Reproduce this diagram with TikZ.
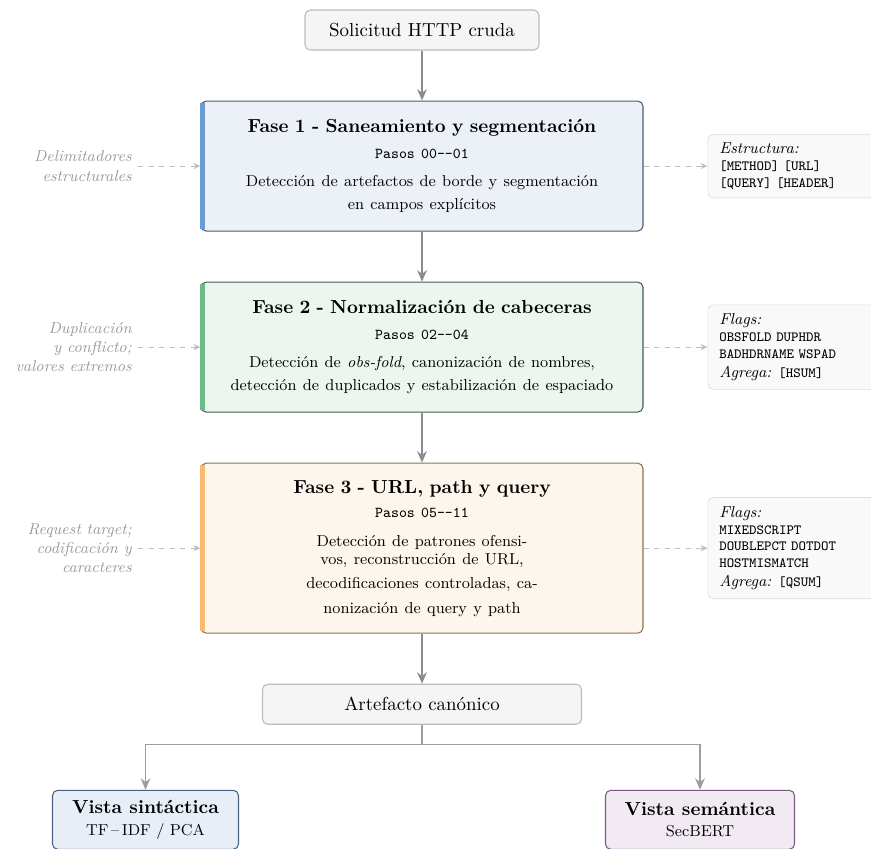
\documentclass[tikz,border=0pt]{standalone}
\usepackage{fontspec}
\usetikzlibrary{arrows.meta,positioning,calc}

\newcommand{\mainsize}{\fontsize{10.75}{13}\selectfont}
\newcommand{\stepsize}{\fontsize{8.6}{10}\selectfont}

\definecolor{fillgray}{HTML}{F5F5F5}
\definecolor{boxgray}{HTML}{BBBBBB}
\definecolor{arrowgray}{HTML}{8C8C8C}
\definecolor{sidegray}{HTML}{BDBDBD}
\definecolor{notegray}{HTML}{9A9A9A}
\definecolor{infofill}{HTML}{F9F9F9}
\definecolor{infoline}{HTML}{DDDDDD}
\definecolor{fillone}{HTML}{ECF1F8}
\definecolor{lineone}{HTML}{4D5B73}
\definecolor{barone}{HTML}{6A9BD1}
\definecolor{filltwo}{HTML}{EDF5EF}
\definecolor{linetwo}{HTML}{3F5F4F}
\definecolor{bartwo}{HTML}{6DBB8A}
\definecolor{fillthree}{HTML}{FDF6EC}
\definecolor{linethree}{HTML}{8B7355}
\definecolor{barthree}{HTML}{FDB870}
\definecolor{fillsyn}{HTML}{E8EEF7}
\definecolor{linesyn}{HTML}{4A6080}
\definecolor{fillsem}{HTML}{F1EAF3}
\definecolor{linesem}{HTML}{7A5A80}

\tikzset{
  base/.style={draw, rounded corners=3pt, align=center, line width=0.6pt, font=\mainsize},
  greybox/.style={base, draw=boxgray, fill=fillgray, minimum height=0.8cm},
  phase/.style={base, minimum width=8.84cm, minimum height=2.6cm, text width=8.3cm},
  phasebar/.style={line width=2.6pt},
  flow/.style={->, draw=arrowgray, line width=1.2pt},
  branch/.style={draw=arrowgray!85, line width=0.8pt},
  side/.style={-{Stealth[length=4pt,width=3.5pt]}, draw=sidegray, dashed, line width=0.6pt},
  note/.style={font=\small\itshape, text=notegray, align=right},
  infobox/.style={draw=infoline, fill=infofill, rounded corners=3pt, align=left,
    text width=3cm, inner xsep=6.5pt, inner ysep=5pt, font=\footnotesize},
  view/.style={base, minimum height=1.18cm}
}

\begin{document}
\begin{tikzpicture}[node distance=1cm, >={Stealth[length=6.5pt,width=5.5pt]}]
  \useasboundingbox (0,0) rectangle (17.42,-16.96);

  % main column
  \node[greybox, minimum width=4.68cm] (raw) at (8.44,-0.6) {Solicitud HTTP cruda};

  \node[phase, fill=fillone, draw=lineone, below=of raw] (f1) {%
    {\bfseries Fase 1 - Saneamiento y segmentación}\\[1.7pt]
    {\stepsize\ttfamily Pasos 00--01}\\[3pt]
    {\small Detección de artefactos de borde y segmentación}\\[0pt]
    {\small en campos explícitos}};

  \node[phase, fill=filltwo, draw=linetwo, below=of f1] (f2) {%
    {\bfseries Fase 2 - Normalización de cabeceras}\\[1.7pt]
    {\stepsize\ttfamily Pasos 02--04}\\[3pt]
    {\small Detección de \textit{obs-fold}, canonización de nombres,}\\[0pt]
    {\small detección de duplicados y estabilización de espaciado}};

  \node[phase, fill=fillthree, draw=linethree, minimum height=3.4cm, below=of f2] (f3) {%
    {\bfseries Fase 3 - URL, path y query}\\[1.2pt]
    {\stepsize\ttfamily Pasos 05--11}\\[3.4pt]
    {\small Detección de patrones ofensi-}\\[-3pt]
    {\small vos, reconstrucción de URL,}\\[0.6pt]
    {\small decodificaciones controladas, ca-}\\[1.2pt]
    {\small nonización de query y path}};

  \node[greybox, minimum width=6.38cm, below=of f3] (art) {Artefacto canónico};

  % colour bars
  \draw[phasebar, barone] ([xshift=1.3pt,yshift=-1.5pt]f1.north west) -- ([xshift=1.3pt,yshift=1.5pt]f1.south west);
  \draw[phasebar, bartwo] ([xshift=1.3pt,yshift=-1.5pt]f2.north west) -- ([xshift=1.3pt,yshift=1.5pt]f2.south west);
  \draw[phasebar, barthree] ([xshift=1.3pt,yshift=-1.5pt]f3.north west) -- ([xshift=1.3pt,yshift=1.5pt]f3.south west);

  % views
  \node[view, fill=fillsyn, draw=linesyn, minimum width=3.72cm, below=1.3cm of art, xshift=-5.53cm] (syn)
    {{\bfseries Vista sintáctica}\\[-1pt] {\small TF\,--\,IDF / PCA}};
  \node[view, fill=fillsem, draw=linesem, minimum width=3.78cm, below=1.3cm of art, xshift=5.56cm] (sem)
    {{\bfseries Vista semántica}\\[-1pt] {\small SecBERT}};

  % side notes
  \node[note, left=1.25cm of f1] (n1) {Delimitadores\\estructurales};
  \node[note, left=1.25cm of f2] (n2) {Duplicación\\y conflicto;\\valores extremos};
  \node[note, left=1.25cm of f3] (n3) {Request target;\\codificación y\\caracteres};

  \node[infobox, right=1.28cm of f1] (i1) {{\small\itshape Estructura:}\\
    \texttt{[METHOD] [URL]}\\ \texttt{[QUERY] [HEADER]}};
  \node[infobox, right=1.28cm of f2] (i2) {{\small\itshape Flags:}\\
    \texttt{OBSFOLD DUPHDR}\\ \texttt{BADHDRNAME WSPAD}\\[1.5pt]
    {\small\itshape Agrega:} \texttt{[HSUM]}};
  \node[infobox, right=1.28cm of f3] (i3) {{\small\itshape Flags:}\\
    \texttt{MIXEDSCRIPT}\\ \texttt{DOUBLEPCT DOTDOT}\\ \texttt{HOSTMISMATCH}\\[1.5pt]
    {\small\itshape Agrega:} \texttt{[QSUM]}};

  % connectors
  \draw[flow] (raw) -- (f1);
  \draw[flow] (f1) -- (f2);
  \draw[flow] (f2) -- (f3);
  \draw[flow] (f3) -- (art);

  \coordinate[below=0.4cm of art] (split);
  \draw[branch] (art) -- (split);
  \draw[branch, ->] (split) -| (syn);
  \draw[branch, ->] (split) -| (sem);

  \foreach \i in {1,2,3} {
    \draw[side] (n\i) -- (f\i);
    \draw[side] (f\i) -- (i\i);
  }
\end{tikzpicture}
\end{document}
